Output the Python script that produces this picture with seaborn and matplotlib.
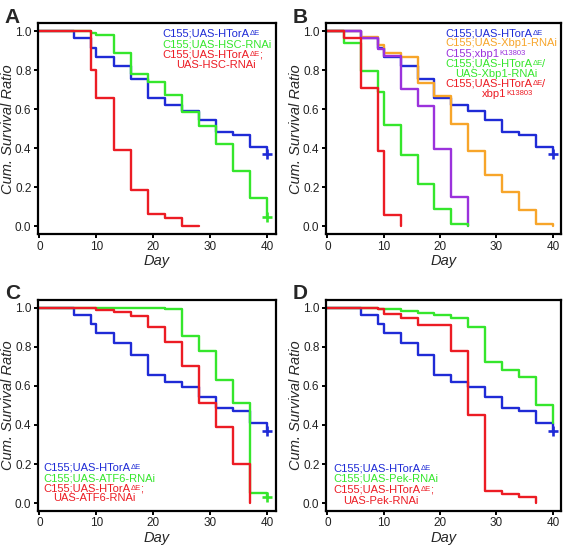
import matplotlib
matplotlib.use("Agg")
import matplotlib.pyplot as plt
import seaborn as sns

sns.set_style("ticks")
plt.rcParams["font.family"] = ["Liberation Sans", "DejaVu Sans"]

# ---------------- data ----------------
xticks = [0, 10, 20, 30, 40]
yticks = [0.0, 0.2, 0.4, 0.6, 0.8, 1.0]

# control (same in every panel)
htora_days = [0, 6, 9, 10, 13, 16, 19, 22, 25, 28, 31, 34, 37, 40]
htora_surv = [1.0, 0.963, 0.915, 0.870, 0.821, 0.755, 0.656, 0.621, 0.592, 0.543, 0.484, 0.470, 0.408, 0.370]

# panel A
hsc_days = [0, 9, 10, 13, 16, 19, 22, 25, 28, 31, 34, 37, 40]
hsc_surv = [1.0, 0.99, 0.98, 0.886, 0.78, 0.74, 0.675, 0.585, 0.515, 0.42, 0.285, 0.145, 0.05]
htora_hsc_days = [0, 9, 10, 13, 16, 19, 22, 25, 28]
htora_hsc_surv = [1.0, 0.80, 0.66, 0.39, 0.185, 0.065, 0.045, 0.005, 0.005]

# panel B
xbp1rnai_days = [0, 6, 9, 10, 13, 16, 19, 22, 25, 28, 31, 34, 37, 40]
xbp1rnai_surv = [1.0, 0.968, 0.93, 0.887, 0.865, 0.735, 0.668, 0.525, 0.385, 0.262, 0.175, 0.082, 0.013, 0.0]
xbp1mut_days = [0, 6, 9, 10, 13, 16, 19, 22, 25]
xbp1mut_surv = [1.0, 0.963, 0.906, 0.872, 0.702, 0.616, 0.398, 0.15, 0.0]
htora_xbp1rnai_days = [0, 3, 6, 9, 10, 13, 16, 19, 22, 25]
htora_xbp1rnai_surv = [1.0, 0.94, 0.795, 0.687, 0.52, 0.368, 0.215, 0.09, 0.015, 0.0]
htora_xbp1mut_days = [0, 3, 6, 9, 10, 13]
htora_xbp1mut_surv = [1.0, 0.967, 0.71, 0.385, 0.06, 0.0]

# panel C
atf6_days = [0, 22, 25, 28, 31, 34, 37, 40]
atf6_surv = [1.0, 0.993, 0.852, 0.78, 0.631, 0.51, 0.051, 0.031]
htora_atf6_days = [0, 10, 13, 16, 19, 22, 25, 28, 31, 34, 37]
htora_atf6_surv = [1.0, 0.985, 0.975, 0.958, 0.903, 0.825, 0.70, 0.51, 0.39, 0.20, 0.0]

# panel D
pek_days = [0, 9, 13, 16, 19, 22, 25, 28, 31, 34, 37, 40]
pek_surv = [1.0, 0.995, 0.98, 0.97, 0.96, 0.945, 0.90, 0.72, 0.68, 0.645, 0.50, 0.41]
htora_pek_days = [0, 9, 10, 13, 16, 22, 25, 28, 31, 34, 37]
htora_pek_surv = [1.0, 0.99, 0.967, 0.945, 0.91, 0.777, 0.45, 0.06, 0.048, 0.034, 0.0]

BLUE = "#1f2bd6"
GREEN = "#35e62c"
RED = "#ec1c24"
ORANGE = "#f7a52a"
PURPLE = "#9b32dc"

DE = "\u0394E"
KM = "K13803"

# legend entries: (main text, superscript, suffix, colour, x, y)
panels = [
    dict(letter="A", rect=(37.7, 23.3, 276.0, 234.3),
         series=[(htora_days, htora_surv, BLUE), (hsc_days, hsc_surv, GREEN),
                 (htora_hsc_days, htora_hsc_surv, RED)],
         censor=[(0.370, BLUE), (0.05, GREEN)],
         legend=[("C155;UAS-HTorA", DE, "", BLUE, 21.6, 0.991),
                 ("C155;UAS-HSC-RNAi", "", "", GREEN, 21.6, 0.937),
                 ("C155;UAS-HTorA", DE, ";", RED, 21.6, 0.883),
                 ("UAS-HSC-RNAi", "", "", RED, 23.9, 0.830)]),
    dict(letter="B", rect=(325.7, 23.3, 561.3, 234.3),
         series=[(htora_days, htora_surv, BLUE), (xbp1rnai_days, xbp1rnai_surv, ORANGE),
                 (xbp1mut_days, xbp1mut_surv, PURPLE),
                 (htora_xbp1rnai_days, htora_xbp1rnai_surv, GREEN),
                 (htora_xbp1mut_days, htora_xbp1mut_surv, RED)],
         censor=[(0.370, BLUE)],
         legend=[("C155;UAS-HTorA", DE, "", BLUE, 20.9, 0.993),
                 ("C155;UAS-Xbp1-RNAi", "", "", ORANGE, 20.9, 0.942),
                 ("C155;xbp1", KM, "", PURPLE, 20.9, 0.889),
                 ("C155;UAS-HTorA", DE, "/", GREEN, 20.9, 0.838),
                 ("UAS-Xbp1-RNAi", "", "", GREEN, 22.6, 0.787),
                 ("C155;UAS-HTorA", DE, "/", RED, 20.9, 0.736),
                 ("xbp1", KM, "", RED, 27.4, 0.682)]),
    dict(letter="C", rect=(37.7, 299.7, 276.0, 511.0),
         series=[(htora_days, htora_surv, BLUE), (atf6_days, atf6_surv, GREEN),
                 (htora_atf6_days, htora_atf6_surv, RED)],
         censor=[(0.370, BLUE), (0.031, GREEN)],
         legend=[("C155;UAS-HTorA", DE, "", BLUE, 0.7, 0.185),
                 ("C155;UAS-ATF6-RNAi", "", "", GREEN, 0.7, 0.131),
                 ("C155;UAS-HTorA", DE, ";", RED, 0.7, 0.078),
                 ("UAS-ATF6-RNAi", "", "", RED, 2.4, 0.029)]),
    dict(letter="D", rect=(325.7, 299.7, 561.3, 511.0),
         series=[(htora_days, htora_surv, BLUE), (pek_days, pek_surv, GREEN),
                 (htora_pek_days, htora_pek_surv, RED)],
         censor=[(0.370, BLUE)],
         legend=[("C155;UAS-HTorA", DE, "", BLUE, 1.0, 0.180),
                 ("C155;UAS-Pek-RNAi", "", "", GREEN, 1.0, 0.129),
                 ("C155;UAS-HTorA", DE, ";", RED, 1.0, 0.073),
                 ("UAS-Pek-RNAi", "", "", RED, 2.8, 0.017)]),
]

W, H = 567, 546
fig = plt.figure(figsize=(W / 100, H / 100), dpi=100)

for p in panels:
    l, t, r, b = p["rect"]
    ax = fig.add_axes([l / W, 1 - b / H, (r - l) / W, (b - t) / H])
    for days, surv, col in p["series"]:
        sns.lineplot(x=days, y=surv, ax=ax, color=col, drawstyle="steps-post",
                     linewidth=1.7, estimator=None, legend=False)
    for yv, col in p["censor"]:
        sns.scatterplot(x=[40], y=[yv], ax=ax, marker="+", s=50, color=col,
                        linewidth=1.9, legend=False, zorder=5)
    ax.set_xlim(-0.3, 41.5)
    ax.set_ylim(-0.04, 1.04)
    ax.set_xticks(xticks)
    ax.set_yticks(yticks)
    ax.set_yticklabels([f"{v:.1f}" for v in yticks])
    ax.tick_params(axis="both", length=3, width=1.4, pad=1.5, labelsize=8.5,
                   color="black", labelcolor="#222222")
    for s in ax.spines.values():
        s.set_linewidth(1.6)
        s.set_color("black")
    ax.set_xlabel("Day", fontsize=10.5, style="italic", labelpad=1)
    ax.set_ylabel("Cum. Survival Ratio", fontsize=10.5, style="italic", labelpad=0)
    for main, sup, suf, col, xv, yv in p["legend"]:
        t0 = ax.text(xv, yv - 0.02, main, color=col, fontsize=8.0, ha="left",
                     va="baseline")
        if sup:
            t1 = ax.annotate(sup, xy=(1, 1), xycoords=t0, xytext=(0.2, -0.9),
                             textcoords="offset points", color=col, fontsize=5.5,
                             ha="left", va="top")
            if suf:
                ax.annotate(suf, xy=(1, 0), xycoords=(t1, t0), xytext=(-0.6, 0),
                            textcoords="offset points", color=col, fontsize=8.0,
                            ha="left", va="bottom")
    fig.text((l - 33) / W, 1 - (t - 0.5) / H, p["letter"], fontsize=15,
             fontweight="bold", ha="left", va="baseline")

fig.savefig("out.png", dpi=100)
